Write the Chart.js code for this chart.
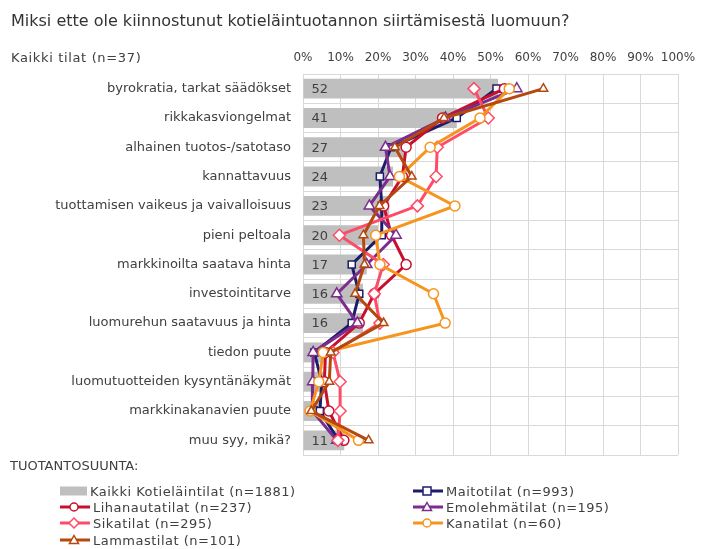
<!DOCTYPE html>
<html>
<head>
<meta charset="utf-8">
<script src="https://cdn.jsdelivr.net/npm/chart.js@4"></script>
<style>
  html, body { margin: 0; padding: 0; background: #fff; }
  body { width: 708px; height: 549px; position: relative; overflow: hidden; font-family: "DejaVu Sans", Verdana, sans-serif; color: #404040; }
  #wrap { position: absolute; left: 0; top: 0; width: 708px; height: 549px; }
  .txt { position: absolute; white-space: nowrap; line-height: 1; }
  #title { left: 11px; top: 13px; font-size: 16px; color: #333; }
  #sub { left: 11px; top: 51px; font-size: 13px; letter-spacing: 0.65px; }
  #lgTitle { left: 10px; top: 459px; font-size: 13px; }
  .lg { position: absolute; height: 16px; display: flex; align-items: center; font-size: 13px; letter-spacing: 0.5px; white-space: nowrap; }
  .lg svg { margin-right: 3px; flex: none; }
</style>
</head>
<body>
<div id="wrap"><canvas id="c" width="708" height="549"></canvas></div>
<div class="txt" id="title">Miksi ette ole kiinnostunut kotieläintuotannon siirtämisestä luomuun?</div>
<div class="txt" id="sub">Kaikki tilat (n=37)</div>
<div class="txt" id="lgTitle">TUOTANTOSUUNTA:</div>
<div id="legend"></div>
<script>
const categories = [
  "byrokratia, tarkat säädökset",
  "rikkakasviongelmat",
  "alhainen tuotos-/satotaso",
  "kannattavuus",
  "tuottamisen vaikeus ja vaivalloisuus",
  "pieni peltoala",
  "markkinoilta saatava hinta",
  "investointitarve",
  "luomurehun saatavuus ja hinta",
  "tiedon puute",
  "luomutuotteiden kysyntänäkymät",
  "markkinakanavien puute",
  "muu syy, mikä?"
];
const tickLabels = ["0%","10%","20%","30%","40%","50%","60%","70%","80%","90%","100%"];

const kaikki      = [52, 41, 27, 24, 23, 20, 17, 16, 16, 6, 6, 5, 11];
const maito       = [51.6, 41, 23.5, 20.5, 21, 21, 13, 15, 13, 3, 5, 4.5, 9.5];
const lihanauta   = [53.7, 37.2, 27.5, 26.5, 21.5, 23.6, 27.5, 19, 15, 6, 5.7, 6.9, 10.9];
const emolehma    = [57, 38, 22, 23.2, 17.7, 24.8, 17, 9, 14.5, 2.7, 2.6, 2.5, 9];
const sika        = [45.6, 49.4, 35.8, 35.5, 30.5, 9.7, 21.4, 19, 20.5, 8, 9.9, 9.9, 9.3];
const kana        = [55, 47.2, 33.9, 25.7, 40.5, 19.4, 20.5, 34.8, 37.9, 5.4, 4.2, 1.9, 14.8];
const lammas      = [64.1, 37.6, 24.5, 29, 20.4, 16.1, 16.4, 13.9, 21.5, 7.4, 7, 2.2, 17.5];

const seriesNames = [
  "Kaikki Kotieläintilat (n=1881)",
  "Maitotilat (n=993)",
  "Lihanautatilat (n=237)",
  "Emolehmätilat (n=195)",
  "Sikatilat (n=295)",
  "Kanatilat (n=60)",
  "Lammastilat (n=101)"
];

const gridColor = "#d9d9d9";
const textColor = "#404040";

function lineDs(label, data, color, style, order, radius) {
  return {
    type: "line", label, data, order,
    borderColor: color, backgroundColor: "#ffffff",
    borderWidth: 3, pointStyle: style, pointRadius: radius || 5,
    pointBorderWidth: 1.5, pointBorderColor: color, pointBackgroundColor: "#ffffff",
    pointHoverRadius: 5, tension: 0, fill: false, clip: false
  };
}

const datasets = [
  { type: "bar", label: seriesNames[0], data: kaikki, backgroundColor: "#bfbfbf",
    barPercentage: 0.68, categoryPercentage: 1, order: 100 },
  lineDs(seriesNames[1], maito, "#1c1c6b", "rect", 6, 5),
  lineDs(seriesNames[2], lihanauta, "#c8102e", "circle", 5, 5),
  lineDs(seriesNames[3], emolehma, "#7b2c8c", "triangle", 4, 6),
  lineDs(seriesNames[4], sika, "#fd4b68", "rectRot", 3, 6),
  lineDs(seriesNames[5], kana, "#f7941d", "circle", 2, 5),
  lineDs(seriesNames[6], lammas, "#b5480e", "triangle", 1, 5)
];

const barLabels = {
  id: "barLabels",
  afterDatasetDraw(chart, args) {
    if (args.index !== 0) return;
    const ctx = chart.ctx;
    const meta = args.meta;
    ctx.save();
    ctx.font = "13px 'DejaVu Sans', Verdana, sans-serif";
    ctx.fillStyle = textColor;
    ctx.textAlign = "left";
    ctx.textBaseline = "middle";
    meta.data.forEach((bar, i) => {
      ctx.fillText(String(kaikki[i]), bar.base + 8, bar.y + 1);
    });
    ctx.restore();
  }
};

const chart = new Chart(document.getElementById("c"), {
  type: "bar",
  data: { labels: categories, datasets },
  options: {
    indexAxis: "y",
    responsive: false,
    animation: false,
    events: [],
    layout: { padding: { left: 0, top: 0, right: 30, bottom: 94 } },
    plugins: { legend: { display: false }, tooltip: { enabled: false }, title: { display: false } },
    scales: {
      x: {
        type: "linear", position: "top", min: 0, max: 100,
        afterFit(s) { s.height = 74; },
        afterBuildTicks(s) { s.ticks = tickLabels.map((t, i) => ({ value: i * 10 })); },
        grid: { color: gridColor, drawTicks: false, lineWidth: 1 },
        border: { display: true, color: gridColor },
        ticks: {
          padding: 9, color: textColor, maxRotation: 0, autoSkip: false,
          font: { family: "'DejaVu Sans', Verdana, sans-serif", size: 12 },
          callback: (v, i) => tickLabels[i]
        }
      },
      y: {
        type: "category",
        afterFit(s) { s.width = 303; },
        grid: { color: gridColor, drawTicks: false, offset: true },
        border: { display: true, color: gridColor },
        ticks: {
          padding: 12, color: textColor, autoSkip: false,
          font: { family: "'DejaVu Sans', Verdana, sans-serif", size: 13 }
        }
      }
    }
  },
  plugins: [barLabels]
});

// HTML legend built from the chart's datasets
function markerSvg(style, color) {
  const cx = 14, cy = 8;
  switch (style) {
    case "rect": return `<rect x="${cx-4}" y="${cy-4}" width="8" height="8" fill="#fff" stroke="${color}" stroke-width="1.5"/>`;
    case "circle": return `<circle cx="${cx}" cy="${cy}" r="4" fill="#fff" stroke="${color}" stroke-width="1.5"/>`;
    case "triangle": return `<polygon points="${cx},${cy-4.5} ${cx+4.5},${cy+3.5} ${cx-4.5},${cy+3.5}" fill="#fff" stroke="${color}" stroke-width="1.5"/>`;
    case "rectRot": return `<polygon points="${cx},${cy-5} ${cx+5},${cy} ${cx},${cy+5} ${cx-5},${cy}" fill="#fff" stroke="${color}" stroke-width="1.5"/>`;
  }
  return "";
}
const legendEl = document.getElementById("legend");
const colX = [60, 413];
const rowY = [483, 499, 515, 532];
chart.data.datasets.forEach((ds, i) => {
  const col = i % 2, row = Math.floor(i / 2);
  const div = document.createElement("div");
  div.className = "lg";
  div.style.left = colX[col] + "px";
  div.style.top = rowY[row] + "px";
  let svg;
  if (ds.type === "bar") {
    svg = `<svg width="27" height="16"><rect x="0" y="3.5" width="27" height="9" fill="${ds.backgroundColor}"/></svg>`;
  } else {
    svg = `<svg width="30" height="16"><line x1="0" y1="8" x2="30" y2="8" stroke="${ds.borderColor}" stroke-width="3"/>${markerSvg(ds.pointStyle, ds.borderColor)}</svg>`;
  }
  div.innerHTML = svg + `<span>${ds.label}</span>`;
  legendEl.appendChild(div);
});
</script>
</body>
</html>
